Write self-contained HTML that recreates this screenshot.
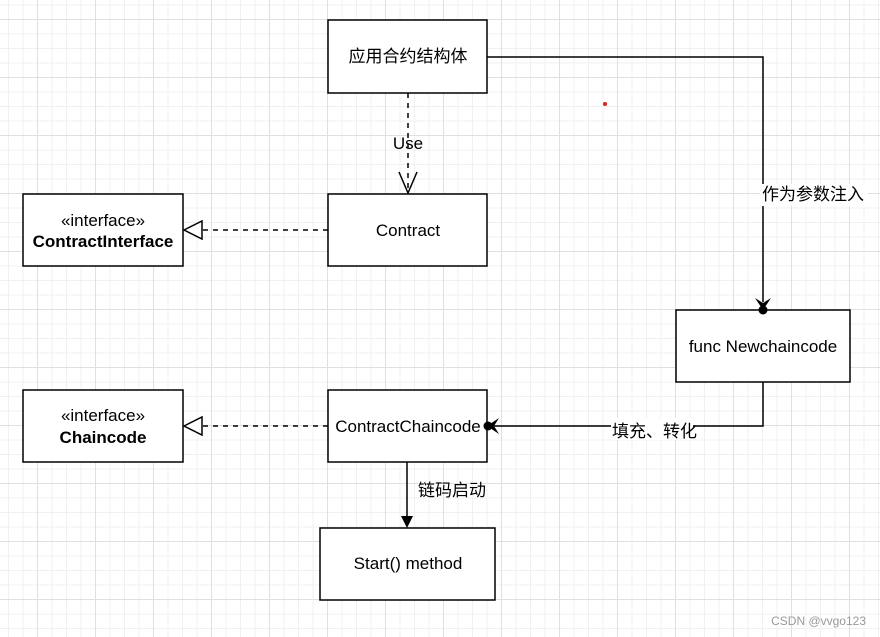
<!DOCTYPE html>
<html><head><meta charset="utf-8"><style>
html,body{margin:0;padding:0;background:#fff}
svg{display:block}
text{font-family:"Liberation Sans","Noto Sans CJK SC",sans-serif;font-size:17px;fill:#000}
</style></head><body>
<svg width="880" height="637" viewBox="0 0 880 637" xmlns="http://www.w3.org/2000/svg">
<defs>
<pattern id="minor" x="8" y="4.5" width="14.5" height="14.5" patternUnits="userSpaceOnUse">
<path d="M0 0.5H14.5M0.5 0V14.5" stroke="#f0f0f0" stroke-width="1" fill="none"/>
</pattern>
<pattern id="major" x="37" y="19" width="58" height="58" patternUnits="userSpaceOnUse">
<path d="M0 0.5H58M0.5 0V58" stroke="#e0e0e0" stroke-width="1" fill="none"/>
</pattern>
</defs>
<rect width="880" height="637" fill="url(#minor)"/>
<rect width="880" height="637" fill="url(#major)"/>

<g fill="#fff" stroke="#000" stroke-width="1.5">
<rect x="328" y="20" width="159" height="73"/>
<rect x="328" y="194" width="159" height="72"/>
<rect x="23" y="194" width="160" height="72"/>
<rect x="23" y="390" width="160" height="72"/>
<rect x="328" y="390" width="159" height="72"/>
<rect x="676" y="310" width="174" height="72"/>
<rect x="320" y="528" width="175" height="72"/>
</g>

<g text-anchor="middle">
<text x="408" y="62">应用合约结构体</text>
<text x="408" y="236">Contract</text>
<text x="103" y="226">«interface»</text>
<text x="103" y="247" font-weight="bold">ContractInterface</text>
<text x="103" y="421">«interface»</text>
<text x="103" y="443" font-weight="bold">Chaincode</text>
<text x="408" y="432">ContractChaincode</text>
<text x="763" y="352">func Newchaincode</text>
<text x="408" y="569">Start() method</text>
</g>

<path d="M487 57H763V302" stroke="#000" stroke-width="1.5" fill="none"/>
<path d="M755 298L763 310L771 298L763 303Z" fill="#000"/>
<circle cx="763" cy="310" r="4.5" fill="#000"/>
<rect x="760" y="184" width="108" height="22" fill="#fff"/>
<text x="762" y="200">作为参数注入</text>

<path d="M763 382V426H493" stroke="#000" stroke-width="1.5" fill="none"/>
<path d="M499 418L487 426L499 434L494 426Z" fill="#000"/>
<circle cx="488" cy="426" r="4.5" fill="#000"/>
<rect x="611" y="418" width="82" height="22" fill="#fff"/>
<text x="612" y="437">填充、转化</text>

<path d="M408 93V190" stroke="#000" stroke-width="1.5" stroke-dasharray="5,5" fill="none"/>
<path d="M399 172L408 193L417 172" stroke="#000" stroke-width="1.5" fill="none"/>
<text x="408" y="149" text-anchor="middle">Use</text>

<path d="M328 230H201" stroke="#000" stroke-width="1.5" stroke-dasharray="5,5"/>
<path d="M184 230L202 221V239Z" fill="#fff" stroke="#000" stroke-width="1.5"/>
<path d="M328 426H201" stroke="#000" stroke-width="1.5" stroke-dasharray="5,5"/>
<path d="M184 426L202 417V435Z" fill="#fff" stroke="#000" stroke-width="1.5"/>

<path d="M407 462V520" stroke="#000" stroke-width="1.5"/>
<path d="M401 516L407 528L413 516Z" fill="#000"/>
<text x="418" y="496">链码启动</text>

<circle cx="605" cy="104" r="2" fill="#e02020"/>
<text x="866" y="625" text-anchor="end" style="font-size:12px;fill:#999">CSDN @vvgo123</text>
</svg>
</body></html>
